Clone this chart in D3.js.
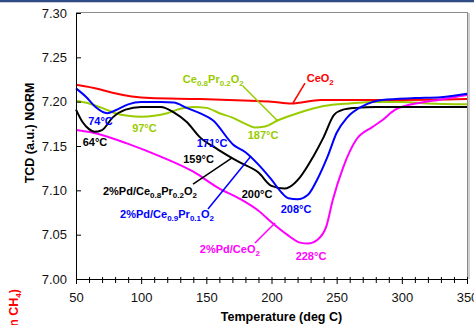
<!DOCTYPE html>
<html>
<head>
<meta charset="utf-8">
<script src="https://cdn.jsdelivr.net/npm/d3@7"></script>
<style>
  body { margin: 0; background: #fff; }
  svg { display: block; font-family: "Liberation Sans", Arial, sans-serif; }
</style>
</head>
<body>
<svg id="drawing_region"></svg>
<script>
// TCD traces, temperature (deg C) and signal (a.u.)
const ceo2Temp = [50, 68, 78, 107, 145, 184, 200, 215, 238, 261, 299, 350];
const ceo2Val  = [7.219, 7.214, 7.210, 7.204, 7.203, 7.201, 7.200, 7.198, 7.202, 7.202, 7.202, 7.203];

const cepr02Temp = [50, 60, 70, 80, 90, 100, 110, 120, 130, 140, 150, 160, 170, 180, 187, 195, 205, 220, 240, 260, 280, 300, 320, 350];
const cepr02Val  = [7.201, 7.198, 7.193, 7.187, 7.184, 7.183, 7.184, 7.187, 7.192, 7.194, 7.193, 7.187, 7.182, 7.175, 7.171, 7.172, 7.179, 7.187, 7.195, 7.198, 7.1996, 7.1996, 7.198, 7.197];

const pdCepr01Temp = [50, 58, 65, 74, 80, 90, 100, 115, 125, 135, 145, 155, 171, 180, 190, 200, 208, 213, 220, 228, 235, 243, 250, 258, 270, 285, 310, 330, 350];
const pdCepr01Val  = [7.215, 7.205, 7.194, 7.187, 7.190, 7.197, 7.1996, 7.1996, 7.199, 7.193, 7.187, 7.179, 7.151, 7.143, 7.129, 7.112, 7.097, 7.091, 7.090, 7.095, 7.112, 7.138, 7.165, 7.182, 7.195, 7.202, 7.204, 7.205, 7.209];

const pdCepr02Temp = [50, 55, 60, 64, 70, 78, 88, 100, 115, 125, 135, 145, 159, 175, 190, 200, 210, 214, 222, 232, 240, 248, 255, 265, 280, 300, 350];
const pdCepr02Val  = [7.191, 7.177, 7.169, 7.166, 7.168, 7.182, 7.191, 7.194, 7.194, 7.188, 7.177, 7.160, 7.146, 7.132, 7.120, 7.105, 7.102, 7.104, 7.115, 7.138, 7.160, 7.185, 7.191, 7.193, 7.194, 7.194, 7.194];

const pdCeo2Temp = [50, 63, 89, 115, 140, 160, 175, 190, 200, 212, 222, 228, 235, 242, 247, 255, 265, 277, 285, 295, 315, 328, 340, 350];
const pdCeo2Val  = [7.168, 7.165, 7.153, 7.138, 7.121, 7.102, 7.091, 7.077, 7.064, 7.050, 7.041, 7.040, 7.044, 7.059, 7.089, 7.126, 7.157, 7.171, 7.179, 7.191, 7.199, 7.202, 7.205, 7.2075];

const xTicks = [50, 100, 150, 200, 250, 300, 350];
const yTicks = [7.00, 7.05, 7.10, 7.15, 7.20, 7.25, 7.30];

const W = 474, H = 325;
const plotLeft = 76, plotRight = 467, plotTop = 13, plotBottom = 279;

const svg = d3.select('#drawing_region')
  .attr('width', W)
  .attr('height', H);

// dark strip at the top of the slide
svg.append('rect').attr('x', 0).attr('y', 0).attr('width', W).attr('height', 2).attr('fill', '#2f4b86');
svg.append('rect').attr('x', 0).attr('y', 2).attr('width', W).attr('height', 1).attr('fill', '#c9cfdb');

const x = d3.scaleLinear().domain([50, 350]).range([plotLeft, plotRight]);
const y = d3.scaleLinear().domain([7.00, 7.30]).range([plotBottom, plotTop]);

// frame (top / right)
svg.append('line').attr('x1', plotLeft).attr('x2', plotRight).attr('y1', plotTop - 0.5).attr('y2', plotTop - 0.5)
  .attr('stroke', '#8a8a8a').attr('stroke-width', 1);
svg.append('line').attr('x1', plotRight + 0.5).attr('x2', plotRight + 0.5).attr('y1', plotTop - 1).attr('y2', plotBottom)
  .attr('stroke', '#8a8a8a').attr('stroke-width', 1);
svg.append('line').attr('x1', plotRight + 2).attr('x2', plotRight + 2).attr('y1', plotTop).attr('y2', plotBottom)
  .attr('stroke', '#cfcfcf').attr('stroke-width', 2);

const series = [
  { name: 'CeO2', temp: ceo2Temp, val: ceo2Val, color: '#ff0000' },
  { name: 'Ce0.8Pr0.2O2', temp: cepr02Temp, val: cepr02Val, color: '#99cc00' },
  { name: '2%Pd/CeO2', temp: pdCeo2Temp, val: pdCeo2Val, color: '#ff00ff' },
  { name: '2%Pd/Ce0.8Pr0.2O2', temp: pdCepr02Temp, val: pdCepr02Val, color: '#000000' },
  { name: '2%Pd/Ce0.9Pr0.1O2', temp: pdCepr01Temp, val: pdCepr01Val, color: '#0000ff' },
];

const line = d3.line()
  .x(d => x(d[0]))
  .y(d => y(d[1]))
  .curve(d3.curveMonotoneX);

svg.append('g')
  .selectAll('path')
  .data(series)
  .enter()
  .append('path')
  .attr('d', s => line(s.temp.map((t, i) => [t, s.val[i]])))
  .attr('fill', 'none')
  .attr('stroke', s => s.color)
  .attr('stroke-width', 2)
  .attr('stroke-linejoin', 'round');

// axes
const xAxis = svg.append('g')
  .attr('transform', `translate(0,${plotBottom})`)
  .call(d3.axisBottom(x).tickValues(xTicks).tickSizeInner(5).tickSizeOuter(0).tickPadding(9).tickFormat(d3.format('d')));
xAxis.select('.domain').attr('stroke', '#000');
xAxis.selectAll('.tick line').attr('y1', -2);
xAxis.selectAll('text').attr('font-size', '13px').attr('fill', '#111').attr('font-family', '"Liberation Sans", Arial, sans-serif');

const minor = d3.range(60, 350, 10).filter(t => t % 50 !== 0);
xAxis.selectAll('.minor')
  .data(minor)
  .enter()
  .append('line')
  .attr('x1', d => x(d) + 0.5)
  .attr('x2', d => x(d) + 0.5)
  .attr('y1', -2)
  .attr('y2', 4)
  .attr('stroke', '#000');

const yAxis = svg.append('g')
  .attr('transform', `translate(${plotLeft},0)`)
  .call(d3.axisLeft(y).tickValues(yTicks).tickSizeInner(-5).tickSizeOuter(0).tickPadding(9).tickFormat(d3.format('.2f')));
yAxis.select('.domain').attr('stroke', '#000');
yAxis.selectAll('text').attr('font-size', '13px').attr('fill', '#111').attr('font-family', '"Liberation Sans", Arial, sans-serif');

// axis titles
svg.append('text')
  .attr('x', (plotLeft + plotRight) / 2 + 10)
  .attr('y', 321)
  .attr('text-anchor', 'middle')
  .attr('font-size', '12.5px')
  .attr('font-weight', 700)
  .text('Temperature (deg C)');

svg.append('text')
  .attr('transform', `translate(34,133) rotate(-90)`)
  .attr('text-anchor', 'middle')
  .attr('font-size', '12.5px')
  .attr('font-weight', 700)
  .text('TCD (a.u.) NORM');

// cut-off title of the chart below
const cut = svg.append('text')
  .attr('transform', `translate(18,289) rotate(-90)`)
  .attr('text-anchor', 'end')
  .attr('font-size', '12.5px')
  .attr('font-weight', 700)
  .attr('fill', '#ff0000');
cut.append('tspan').text('Conc. (in CH');
cut.append('tspan').attr('font-size', '8px').attr('dy', 3).text('4');
cut.append('tspan').attr('dy', -3).text(')');

// annotations at (temperature, value)
function label(parts, t, v, anchor, color) {
  const txt = svg.append('text')
    .attr('x', x(t))
    .attr('y', y(v))
    .attr('text-anchor', anchor)
    .attr('font-size', '11px')
    .attr('font-weight', 700)
    .attr('fill', color);
  let low = false;
  parts.forEach(p => {
    const sub = p.startsWith('_');
    const s = txt.append('tspan').text(sub ? p.slice(1) : p);
    if (sub) {
      s.attr('font-size', '8px').attr('dy', low ? 0 : 3);
      low = true;
    } else {
      s.attr('dy', low ? -3 : 0);
      low = false;
    }
  });
}

function leader(t1, v1, t2, v2, color) {
  svg.append('line')
    .attr('x1', x(t1)).attr('y1', y(v1))
    .attr('x2', x(t2)).attr('y2', y(v2))
    .attr('stroke', color)
    .attr('stroke-width', 1.5);
}

label(['CeO', '_2'], 227, 7.222, 'start', '#ff0000');
leader(225.7, 7.221, 216.5, 7.1985, '#ff0000');

label(['Ce', '_0.8', 'Pr', '_0.2', 'O', '_2'], 132, 7.221, 'start', '#99cc00');
leader(178, 7.2177, 205, 7.178, '#99cc00');
label(['187°C'], 193.5, 7.158, 'middle', '#99cc00');
label(['97°C'], 102.5, 7.166, 'middle', '#99cc00');

label(['74°C'], 68.8, 7.1737, 'middle', '#0000ff');
label(['64°C'], 64.6, 7.150, 'middle', '#000000');
label(['171°C'], 154.4, 7.149, 'middle', '#0000ff');
label(['159°C'], 144, 7.131, 'middle', '#000000');

label(['2%Pd/Ce', '_0.8', 'Pr', '_0.2', 'O', '_2'], 70.7, 7.0947, 'start', '#000000');
leader(139.8, 7.107, 169.7, 7.1365, '#000000');

label(['2%Pd/Ce', '_0.9', 'Pr', '_0.1', 'O', '_2'], 83.8, 7.0688, 'start', '#0000ff');
leader(151.3, 7.079, 184.3, 7.1387, '#0000ff');

label(['200°C'], 188.9, 7.0913, 'middle', '#000000');
label(['208°C'], 218.8, 7.0744, 'middle', '#0000ff');

label(['2%Pd/CeO', '_2'], 145, 7.0293, 'start', '#ff00ff');
leader(187.3, 7.0406, 202.7, 7.0632, '#ff00ff');
label(['228°C'], 230.3, 7.0214, 'middle', '#ff00ff');
</script>
</body>
</html>
